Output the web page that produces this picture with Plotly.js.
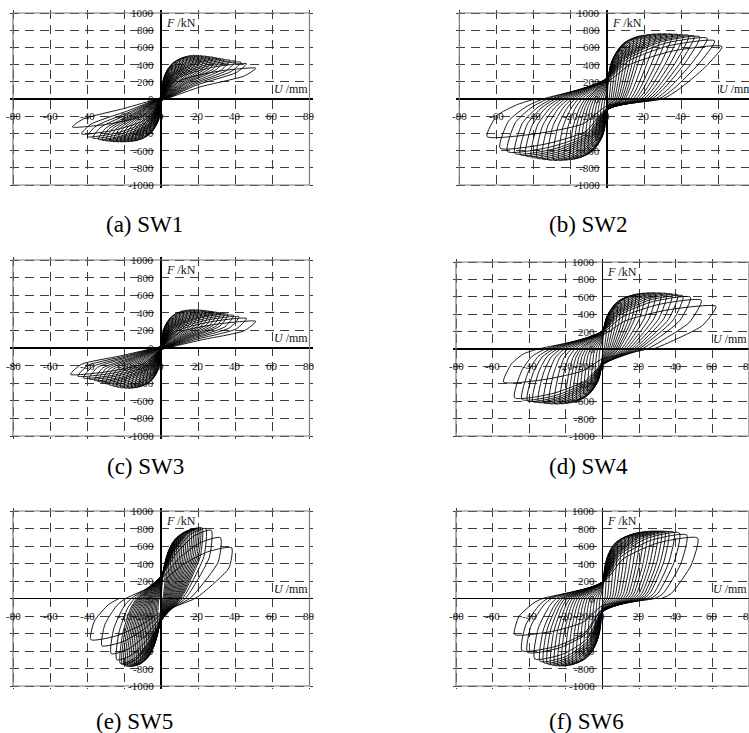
<!DOCTYPE html>
<html>
<head>
<meta charset="utf-8">
<script src="https://cdn.plot.ly/plotly-3.0.1.min.js"></script>
<style>
html,body{margin:0;padding:0;background:#fff;}
#chart{width:749px;height:733px;}
</style>
</head>
<body>
<div id="chart"></div>
<script>
// ---------------- tick labels ----------------
const xTicks = [-80, -60, -40, -20, 0, 20, 40, 60, 80];
const yTicks = [-1000, -800, -600, -400, -200, 0, 200, 400, 600, 800, 1000];
const specimens = ['SW1', 'SW2', 'SW3', 'SW4', 'SW5', 'SW6'];
const captions = ['(a) SW1', '(b) SW2', '(c) SW3', '(d) SW4', '(e) SW5', '(f) SW6'];

// ---------------- cycle peaks (U in mm, F in kN) ----------------
const sw1PosD = [2, 4, 6, 8, 10, 12, 14, 16, 18, 20, 22, 24, 26, 28, 30, 32, 34, 37, 40, 43, 46, 51];
const sw1PosF = [200, 320, 390, 430, 460, 480, 495, 503, 508, 506, 502, 498, 492, 486, 478, 470, 462, 452, 440, 428, 410, 358];
const sw1NegD = [-2, -4, -6, -8, -10, -12, -14, -16, -18, -20, -22, -24, -26, -28, -30, -32, -34, -37, -40, -43, -48];
const sw1NegF = [-190, -300, -370, -420, -450, -470, -485, -492, -495, -497, -497, -496, -494, -490, -485, -478, -470, -455, -438, -405, -325];

const sw2PosD = [2, 4, 6, 8, 10, 12, 14, 16, 18, 20, 23, 26, 29, 32, 35, 38, 41, 44, 47, 50, 54, 58, 62];
const sw2PosF = [250, 400, 500, 570, 620, 660, 690, 712, 728, 738, 745, 752, 755, 754, 752, 748, 742, 738, 730, 722, 705, 675, 610];
const sw2NegD = [-2, -4, -6, -8, -10, -12, -14, -16, -18, -20, -23, -26, -29, -32, -35, -38, -41, -44, -47, -50, -54, -58, -65];
const sw2NegF = [-230, -380, -480, -550, -600, -635, -660, -680, -692, -700, -706, -710, -710, -706, -698, -688, -676, -662, -648, -632, -610, -570, -436];

const sw3PosD = [2, 4, 6, 8, 10, 12, 14, 16, 18, 20, 22, 24, 26, 28, 30, 32, 34, 36, 39, 42, 46, 51];
const sw3PosF = [170, 280, 340, 380, 405, 420, 428, 432, 434, 432, 428, 424, 418, 412, 405, 398, 390, 383, 370, 355, 335, 303];
const sw3NegD = [-2, -4, -6, -8, -10, -12, -14, -16, -18, -20, -22, -24, -26, -28, -30, -32, -34, -36, -39, -42, -45, -49];
const sw3NegF = [-180, -290, -360, -400, -425, -440, -450, -455, -457, -455, -450, -443, -433, -420, -405, -392, -380, -368, -352, -340, -320, -300];

const sw4PosD = [2, 4, 6, 8, 10, 12, 14, 16, 18, 20, 23, 26, 29, 32, 35, 38, 41, 44, 48, 54, 62];
const sw4PosF = [220, 350, 430, 490, 530, 565, 590, 608, 620, 630, 638, 642, 642, 640, 636, 630, 622, 610, 595, 560, 490];
const sw4NegD = [-2, -4, -6, -8, -10, -12, -14, -16, -18, -20, -23, -26, -29, -32, -35, -38, -41, -44, -48, -54];
const sw4NegF = [-210, -340, -420, -480, -520, -555, -580, -600, -612, -620, -626, -628, -626, -620, -612, -605, -595, -580, -560, -380];

const sw5PosD = [2, 3, 4, 5, 6, 7, 8, 9, 10, 11, 12, 13, 14, 15, 16, 17, 18, 19, 20, 21, 22, 24, 27, 32, 38];
const sw5PosF = [300, 400, 480, 540, 590, 630, 660, 690, 710, 730, 745, 758, 768, 778, 785, 792, 798, 802, 805, 808, 808, 800, 780, 695, 580];
const sw5NegD = [-2, -3, -4, -5, -6, -7, -8, -9, -10, -11, -12, -13, -14, -15, -16, -17, -18, -19, -20, -21, -22, -24, -27, -32, -38];
const sw5NegF = [-300, -400, -480, -540, -590, -630, -665, -690, -715, -735, -750, -760, -768, -772, -775, -776, -776, -773, -760, -755, -745, -700, -630, -540, -470];

const sw6PosD = [2, 4, 6, 8, 10, 12, 14, 16, 18, 20, 22, 24, 26, 28, 30, 32, 34, 36, 39, 42, 46, 52];
const sw6PosF = [300, 450, 560, 620, 660, 690, 710, 725, 738, 748, 755, 760, 764, 766, 766, 765, 764, 762, 758, 748, 725, 690];
const sw6NegD = [-2, -4, -6, -8, -10, -12, -14, -16, -18, -20, -22, -24, -26, -28, -30, -32, -34, -37, -41, -44, -48];
const sw6NegF = [-280, -430, -540, -610, -660, -700, -725, -745, -757, -765, -768, -768, -765, -758, -748, -735, -718, -690, -615, -595, -410];

const peakData = {
  SW1: [sw1PosD, sw1PosF, sw1NegD, sw1NegF],
  SW2: [sw2PosD, sw2PosF, sw2NegD, sw2NegF],
  SW3: [sw3PosD, sw3PosF, sw3NegD, sw3NegF],
  SW4: [sw4PosD, sw4PosF, sw4NegD, sw4NegF],
  SW5: [sw5PosD, sw5PosF, sw5NegD, sw5NegF],
  SW6: [sw6PosD, sw6PosF, sw6NegD, sw6NegF]
};

// loop shape, as fractions of the cycle peak:
// u = unloading knee, m = unloading mid point, r = zero-force crossing, p = pinch force at U=0,
// k = reloading knees [d1, f1, d2, f2]
const loopShape = {
  SW1: {pos: {u: [0.88, 0.75], m: [0.42, 0.40], r: 0.05, p: 0.04},
        neg: {u: [0.88, 0.72], m: [0.42, 0.34], r: 0.05, p: 0.04}, k: [0.2, 0.6, 0.6, 0.9]},
  SW2: {pos: {u: [0.85, 0.60], m: [0.62, 0.18], r: 0.48, p: 0.18},
        neg: {u: [0.92, 0.45], m: [0.75, 0.15], r: 0.60, p: 0.33}, k: [0.2, 0.66, 0.58, 0.92]},
  SW3: {pos: {u: [0.88, 0.65], m: [0.42, 0.30], r: 0.06, p: 0.05},
        neg: {u: [0.88, 0.62], m: [0.45, 0.30], r: 0.07, p: 0.05}, k: [0.2, 0.6, 0.6, 0.9]},
  SW4: {pos: {u: [0.88, 0.55], m: [0.60, 0.17], r: 0.45, p: 0.30},
        neg: {u: [0.92, 0.45], m: [0.80, 0.15], r: 0.65, p: 0.33}, k: [0.2, 0.66, 0.58, 0.92]},
  SW5: {pos: {u: [0.96, 0.60], m: [0.60, 0.12], r: 0.48, p: 0.33},
        neg: {u: [0.95, 0.55], m: [0.75, 0.15], r: 0.60, p: 0.32}, k: [0.3, 0.66, 0.66, 0.92]},
  SW6: {pos: {u: [0.93, 0.55], m: [0.72, 0.08], r: 0.62, p: 0.20},
        neg: {u: [0.95, 0.50], m: [0.78, 0.12], r: 0.68, p: 0.25}, k: [0.22, 0.66, 0.58, 0.92]}
};

// ---------------- panel placement (pixels of the -80/+80 mm and +1000/-1000 kN frame) ----------------
const W = 749, H = 733;
const frames = {
  SW1: {x0: 13, x1: 309.5, y0: 13, y1: 185},
  SW2: {x0: 459.3, x1: 755.3, y0: 13, y1: 185},
  SW3: {x0: 13, x1: 309.5, y0: 260, y1: 436},
  SW4: {x0: 456, x1: 749, y0: 262, y1: 436},
  SW5: {x0: 13, x1: 309.5, y0: 511, y1: 686},
  SW6: {x0: 456, x1: 749, y0: 511, y1: 686}
};
const capPos = {SW1: [144, 224], SW2: [588, 224], SW3: [145, 466], SW4: [588, 466], SW5: [134, 721], SW6: [586, 721]};

function hysteresisPath(d) {
  const [posD, posF, negD, negF] = peakData[d];
  const sh = loopShape[d];
  const peaks = [];
  const n = Math.max(posD.length, negD.length);
  for (let i = 0; i < n; i++) {
    if (i < posD.length) peaks.push([posD[i], posF[i]]);
    if (i < negD.length) peaks.push([negD[i], negF[i]]);
  }
  const xs = [0], ys = [0];
  let A = null;
  function unload(A, B) {
    const s = A[1] > 0 ? sh.pos : sh.neg;
    xs.push(A[0] * s.u[0], A[0] * s.m[0], A[0] * s.r);
    ys.push(A[1] * s.u[1], A[1] * s.m[1], 0);
    if (B) { xs.push(0); ys.push(B[1] * s.p); }
  }
  for (const B of peaks) {
    if (A) unload(A, B);
    xs.push(B[0] * sh.k[0], B[0] * sh.k[2], B[0]);
    ys.push(B[1] * sh.k[1], B[1] * sh.k[3], B[1]);
    A = B;
  }
  unload(A, null);
  return {xs, ys};
}

const SERIF = '"Times New Roman", "Liberation Serif", Times, serif';
const traces = [], shapes = [], annotations = [];
const layout = {
  width: W, height: H, margin: {l: 0, r: 0, t: 0, b: 0},
  paper_bgcolor: '#fff', plot_bgcolor: '#fff', showlegend: false,
  font: {family: SERIF, color: '#000'}
};
const pad = 3;
const tickFont = {family: SERIF, size: 11, color: '#111'};

specimens.forEach((d, i) => {
  const f = frames[d];
  const sfx = i === 0 ? '' : String(i + 1);
  const xr = 'x' + sfx, yr = 'y' + sfx;
  const ppm = (f.x1 - f.x0) / 160;
  const ppk = (f.y1 - f.y0) / 2000;
  const dl = f.x0 - pad, dr = Math.min(f.x1 + pad, W);
  const xRange = [-80 - pad / ppm, (dr - f.x0) / ppm - 80 + 0.01];
  const yRange = [-1000 - pad / ppk, 1000 + pad / ppk];
  const common = {
    showgrid: true, gridcolor: '#3c3c3c', gridwidth: 1, griddash: '9px,6px',
    zeroline: true, zerolinecolor: '#000', zerolinewidth: 1.6,
    showticklabels: false, ticks: '', showline: false, fixedrange: true
  };
  layout['xaxis' + sfx] = Object.assign({}, common, {
    domain: [dl / W, dr / W], range: xRange, dtick: 20, tick0: 0, anchor: yr
  });
  layout['yaxis' + sfx] = Object.assign({}, common, {
    domain: [1 - (f.y1 + pad) / H, 1 - (f.y0 - pad) / H], range: yRange, dtick: 200, tick0: 0, anchor: xr
  });

  const p = hysteresisPath(d);
  traces.push({
    type: 'scatter', mode: 'lines', x: p.xs, y: p.ys, xaxis: xr, yaxis: yr,
    line: {color: '#000', width: 0.9, shape: 'spline', smoothing: 0.6},
    hoverinfo: 'skip'
  });

  shapes.push({type: 'rect', xref: xr, yref: yr, x0: -80, x1: 80, y0: -1000, y1: 1000,
    line: {color: '#7a7a7a', width: 1.2}, layer: 'above'});

  xTicks.forEach(v => annotations.push({
    xref: xr, yref: yr, x: v, y: -200, text: String(v), showarrow: false,
    xanchor: 'center', yanchor: 'middle', font: tickFont
  }));
  yTicks.forEach(v => annotations.push({
    xref: xr, yref: yr, x: 0, y: v, text: String(v), showarrow: false,
    xanchor: 'right', yanchor: 'middle', xshift: -5, font: tickFont
  }));
  annotations.push({
    xref: xr, yref: yr, x: 0, y: 1000, text: '<i>F</i> /kN', showarrow: false,
    xanchor: 'left', yanchor: 'top', xshift: 3, yshift: -1,
    font: {family: SERIF, size: 12, color: '#111'}
  });
  annotations.push({
    xref: 'paper', yref: yr, x: f.x1 / W, y: 0, text: '<i>U</i> /mm', showarrow: false,
    xanchor: 'right', yanchor: 'bottom', yshift: 1,
    font: {family: SERIF, size: 12, color: '#111'}
  });
  annotations.push({
    xref: 'paper', yref: 'paper', x: capPos[d][0] / W, y: 1 - capPos[d][1] / H,
    text: captions[i], showarrow: false, xanchor: 'center', yanchor: 'middle',
    font: {family: SERIF, size: 23, color: '#000'}
  });
});

layout.shapes = shapes;
layout.annotations = annotations;
Plotly.newPlot('chart', traces, layout, {staticPlot: true, displayModeBar: false});
</script>
</body>
</html>
